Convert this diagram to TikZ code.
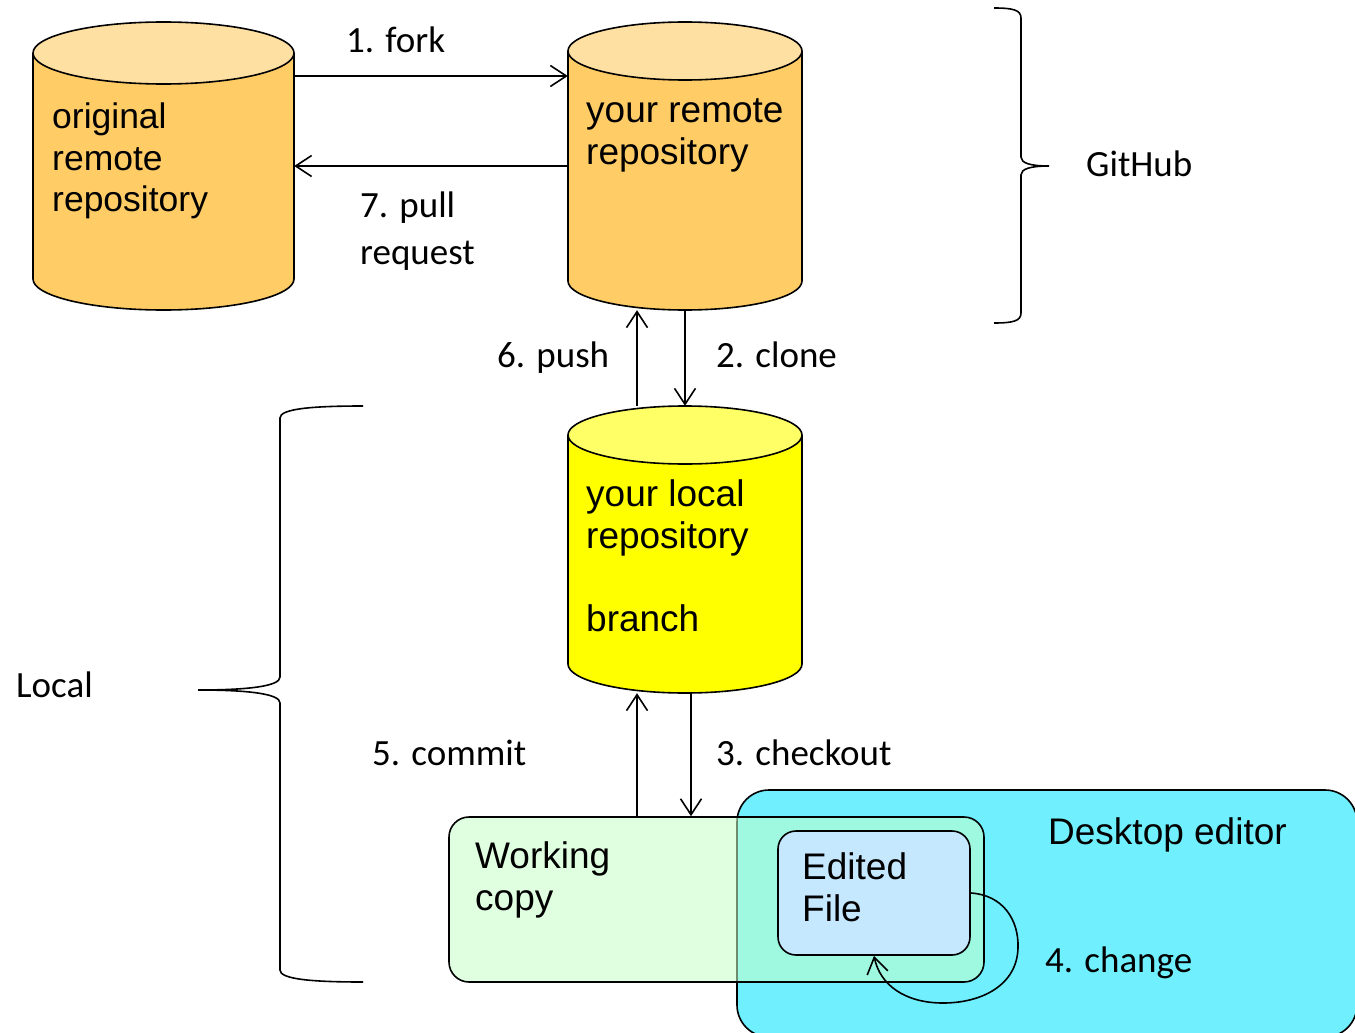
\documentclass[tikz,border=0pt]{standalone}
\usepackage{fontspec}
\setmainfont{Liberation Sans}
\newfontfamily\calibri{Carlito}
\usetikzlibrary{
    arrows.meta,
    calc,
    positioning
}

\definecolor{remoteorange}{HTML}{FFCC66}
\definecolor{remotetop}{HTML}{FFE0A3}
\definecolor{localyellow}{HTML}{FFFF00}
\definecolor{localtop}{HTML}{FFFF66}
\definecolor{workgreen}{RGB}{199,255,199}
\definecolor{editorcyan}{HTML}{70F0FF}
\definecolor{fileblue}{HTML}{C5E8FF}

\tikzset{
    arr/.style={-{Straight Barb[length=16pt,width=21pt]}, line width=1.6pt},
    boxtext/.style={font=\fontsize{37}{42}\selectfont, anchor=north west, align=left, inner sep=0pt, execute at begin node=\strut},
    steplabel/.style={font=\calibri\fontsize{37}{47}\selectfont, anchor=base west, align=left, inner sep=0pt},
    brace/.style={line width=1.6pt},
    repo/.style={rectangle, inner sep=0pt}
}

% cylinder: name, centre x, top y, bottom y, x radius, y radius, body, top
\newcommand{\repocyl}[8]{%
    \filldraw[fill=#7, line width=1.6pt]
        (#2-#5, #3+#6) -- (#2-#5, #4-#6)
        arc[start angle=180, end angle=360, x radius=#5pt, y radius=#6pt]
        -- (#2+#5, #3+#6);
    \filldraw[fill=#8, line width=1.6pt] (#2, #3+#6) ellipse[x radius=#5pt, y radius=#6pt];
    \node[repo, minimum width=2*#5pt, minimum height=#4pt-#3pt] (#1) at (#2, #3/2+#4/2) {};
}

\begin{document}
\begin{tikzpicture}[x=1pt, y=-1pt]
    \path[use as bounding box] (0,0) rectangle (1355,1033);
    \clip (0,0) rectangle (1355,1033);

    % repositories
    \repocyl{orig}{163.5}{22}{310}{130.5}{31}{remoteorange}{remotetop}
    \repocyl{remote}{685}{22}{310}{117}{29}{remoteorange}{remotetop}
    \repocyl{local}{685}{406}{693}{117}{29}{localyellow}{localtop}
    \node[boxtext, font=\fontsize{35.5}{41.5}\selectfont] (origtext) at (52, 102.6) {original\\remote\\repository};
    \node[boxtext] (remotetext) at (586, 98.6) {your remote\\repository};
    \node[boxtext] (localtext) at (586, 479.6) {your local\\repository\\[41pt]branch};

    % editor and working copy
    \node[draw, line width=1.6pt, rounded corners=32pt, fill=editorcyan, inner sep=0pt,
          minimum width=620pt, minimum height=247pt] (editor) at (1047, 913.5) {};
    \node[draw, line width=1.6pt, rounded corners=20pt, fill=workgreen, fill opacity=0.55, inner sep=0pt,
          minimum width=535pt, minimum height=165pt] (work) at (716.5, 899.5) {};
    \node[draw, line width=1.6pt, rounded corners=18pt, fill=fileblue, inner sep=0pt,
          minimum width=192pt, minimum height=124pt] (edit) at (874, 893) {};
    \node[boxtext] (editortext) at (1048, 814.6) {Desktop editor};
    \node[boxtext] (worktext) at (475, 841.6) {Working\\copy};
    \node[boxtext] (edittext) at (802, 852.6) {Edited\\File};

    % steps
    \draw[arr] ([yshift=90pt]orig.east) -- ([yshift=90pt]remote.west);
    \draw[arr] (remote.west) -- (orig.east);
    \draw[arr] (remote.south) -- (local.north);
    \draw[arr] ([xshift=-48pt]local.north) -- ([xshift=-48pt]remote.south);
    \coordinate (commitx) at ([xshift=-48pt]local.south);
    \coordinate (checkx) at ([xshift=6pt]local.south);
    \draw[arr] (checkx) -- (checkx |- work.north);
    \draw[arr] (commitx |- work.north) -- (commitx);
    \draw[arr] (edit.east) .. controls (1003,895) and (1019,920) .. (1018,948)
        .. controls (1017,985) and (982,1003) .. (943,1003)
        .. controls (905,1003) and (880,985) .. (edit.south);

    \node[steplabel] (fork) at (346, 53) {1. fork};
    \node[steplabel, anchor=north west] (pull) at (360, 184.1) {\strut 7. pull\\request};
    \node[steplabel] (clone) at (716, 367) {2. clone};
    \node[steplabel] (push) at (497, 367) {6. push};
    \node[steplabel] (checkout) at (716, 765) {3. checkout};
    \node[steplabel] (commit) at (372, 765) {5. commit};
    \node[steplabel] (change) at (1045, 972) {4. change};

    % braces
    \draw[brace] (994,8) .. controls (1013,8) and (1021,10) .. (1021,18) -- (1021,157)
        .. controls (1021,163) and (1030,166) .. (1049,166)
        .. controls (1030,166) and (1021,169) .. (1021,175) -- (1021,313)
        .. controls (1021,321) and (1013,323) .. (994,323);
    \node[steplabel] (github) at (1086, 176) {GitHub};
    \draw[brace] (363,406) .. controls (310,406) and (280,409) .. (280,418) -- (280,677)
        .. controls (280,686) and (250,690) .. (198,690)
        .. controls (250,690) and (280,694) .. (280,703) -- (280,970)
        .. controls (280,979) and (310,982) .. (363,982);
    \node[steplabel] (localside) at (16, 697) {Local};
\end{tikzpicture}
\end{document}
